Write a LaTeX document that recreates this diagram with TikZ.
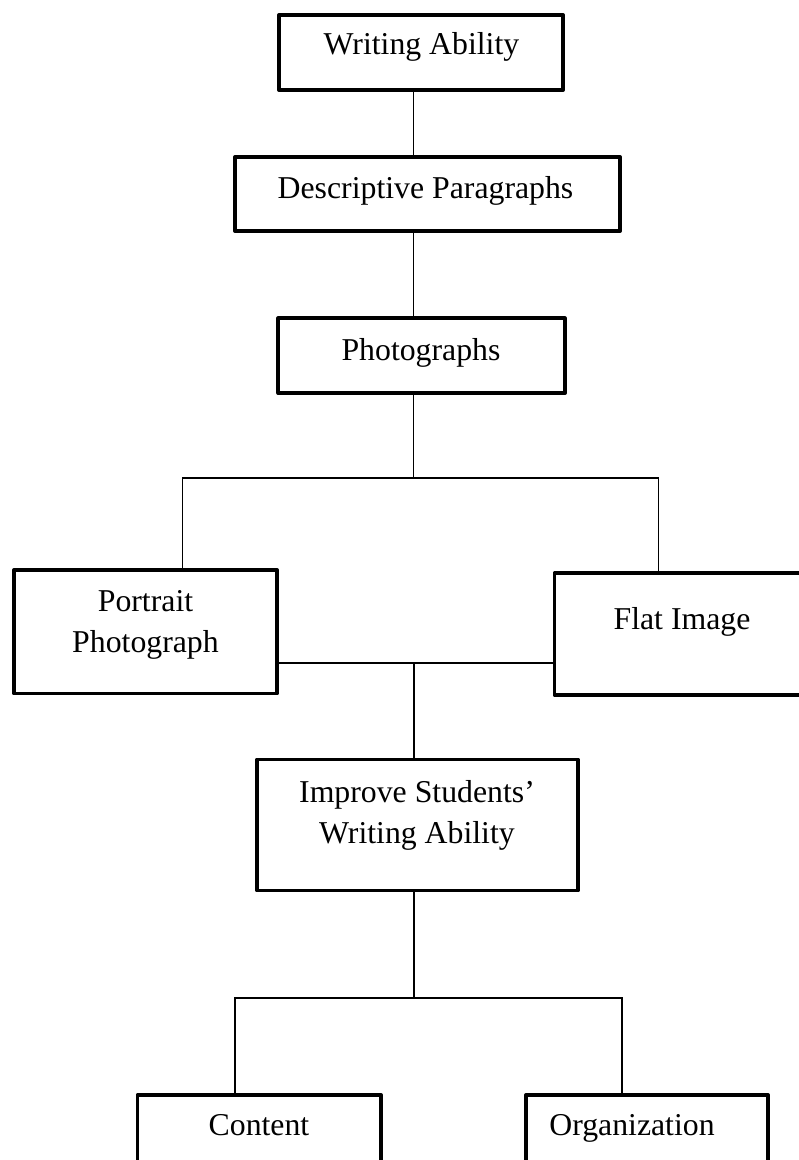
\documentclass[tikz,border=0pt]{standalone}
\usepackage{fontspec}
\setmainfont{Liberation Serif}
\usepackage{tikz}

\begin{document}
\begin{tikzpicture}[x=0.025cm, y=-0.025cm]
        \tikzset{boxstyle/.style={draw, rectangle, line width=2.8pt, line join=round, inner sep=0pt,
                 minimum width=#1*0.025cm}}
        \tikzset{tall/.style={minimum height=#1*0.025cm}}
        \tikzset{label/.style={inner sep=0pt, font=\fontsize{22.6}{29.2}\selectfont, align=center}}
        \tikzset{link/.style={line width=0.75pt}}
        \useasboundingbox (0,0) rectangle (798,1160);
        % boxes
        \node[boxstyle=284, tall=75] (ability) at (421,52.5) {};
        \node[boxstyle=385, tall=74] (paragraphs) at (427.5,194) {};
        \node[boxstyle=286.5, tall=74.7] (photographs) at (421.6,355.7) {};
        \node[boxstyle=263, tall=123.5] (portrait) at (145.5,631.75) {};
        \node[boxstyle=286, tall=121.5] (flat) at (697.5,634.2) {};
        \node[boxstyle=321, tall=131] (improve) at (417.5,825) {};
        \node[boxstyle=243.5, tall=130] (content) at (259.25,1160) {};
        \node[boxstyle=242, tall=130] (organization) at (647,1160) {};
        % texts
        \node[label, anchor=base] (t-ability) at (421.5,54) {Writing Ability};
        \node[label, anchor=base] (t-paragraphs) at (425.5,198) {Descriptive Paragraphs};
        \node[label, anchor=base] (t-photographs) at (421,360) {Photographs};
        \node[label, anchor=north] (t-portrait) at (145.5,590.5) {Portrait\\Photograph};
        \node[label, anchor=base] (t-flat) at (682,629) {Flat Image};
        \node[label, anchor=north] (t-improve) at (417,780.3) {Improve Students'\\Writing Ability};
        \node[label, anchor=base] (t-content) at (259,1135) {Content};
        \node[label, anchor=base] (t-organization) at (632,1135) {Organization};
        % connectors
        \coordinate (split1) at (413.5,478);
        \coordinate (left1) at (182.7,478);
        \coordinate (right1) at (658.3,478);
        \coordinate (split2) at (414,663);
        \coordinate (split3) at (414,998);
        \coordinate (left3) at (235,998);
        \coordinate (right3) at (622,998);
        \draw[link] (ability.south -| split1) -- (paragraphs.north -| split1);
        \draw[link] (paragraphs.south -| split1) -- (photographs.north -| split1);
        \draw[link] (photographs.south -| split1) -- (split1);
        \draw[link] (portrait.north -| left1) -- (left1) -- (right1) -- (flat.north -| right1);
        \draw[link] (portrait.east |- split2) -- (flat.west |- split2);
        \draw[link] (split2) -- (improve.north -| split2);
        \draw[link] (improve.south -| split3) -- (split3);
        \draw[link] (content.north -| left3) -- (left3) -- (right3) -- (organization.north -| right3);
\end{tikzpicture}
\end{document}
